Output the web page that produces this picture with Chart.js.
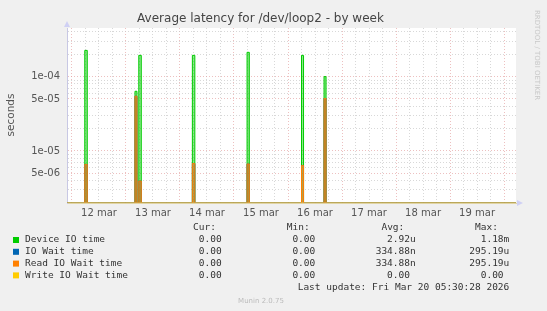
<!DOCTYPE html>
<html>
<head>
<meta charset="utf-8">
<script src="https://cdn.jsdelivr.net/npm/chart.js"></script>
<style>
  html, body { margin: 0; padding: 0; background: #f0f0f0; }
  #wrap { position: relative; width: 547px; height: 311px; }
</style>
</head>
<body>
<div id="wrap"><canvas id="chart" width="547" height="311"></canvas></div>
<script>
// hours since 12 mar 00:00, sample points of the spikes (stepped lines)
const sampleHours = [-2.2, 5.7, 6.8, 28.0, 28.9, 29.7, 30.8, 53.5, 54.6, 77.8, 78.8, 102.0, 102.9, 112.0, 112.9, 197.3];
const deviceIoTime = [0, 2.25e-4, 0, 6.35e-5, 0, 1.93e-4, 0, 1.93e-4, 0, 2.12e-4, 0, 1.93e-4, 0, 1.0e-4, 0, 0];
const ioWaitTime = [0, 6.6e-6, 0, 5.45e-5, 0, 3.95e-6, 0, 6.8e-6, 0, 6.7e-6, 0, 6.4e-6, 0, 5.07e-5, 0, 0];
const readIoWaitTime = [0, 6.6e-6, 0, 5.45e-5, 0, 3.95e-6, 0, 6.8e-6, 0, 6.7e-6, 0, 6.4e-6, 0, 5.07e-5, 0, 0];
const writeIoWaitTime = [0, 0, 0, 0, 0, 0, 0, 0, 0, 0, 0, 0, 0, 0, 0, 0];

// axes
const xMin = -2.2, xMax = 197.3;
const yMin = 2e-6, yMax = 4.5e-4;
const dayLabels = ['12 mar', '13 mar', '14 mar', '15 mar', '16 mar', '17 mar', '18 mar', '19 mar'];
const dayLabelHours = [12, 36, 60, 84, 108, 132, 156, 180];
const yTickValues = [5e-6, 1e-5, 5e-5, 1e-4];
const yTickLabels = ['5e-06', '1e-05', '5e-05', '1e-04'];
const yGridValues = [2e-6, 3e-6, 4e-6, 5e-6, 6e-6, 7e-6, 8e-6, 9e-6,
                     1e-5, 2e-5, 3e-5, 4e-5, 5e-5, 6e-5, 7e-5, 8e-5, 9e-5,
                     1e-4, 2e-4, 3e-4, 4e-4];

// legend table
const seriesNames = ['Device IO time', 'IO Wait time', 'Read IO Wait time', 'Write IO Wait time'];
const seriesColors = ['#00cc00', '#0066b3', '#ff8000', '#ffcc00'];
const curValues = ['0.00', '0.00', '0.00', '0.00'];
const minValues = ['0.00', '0.00', '0.00', '0.00'];
const avgValues = ['2.92u', '334.88n', '334.88n', '0.00'];
const maxValues = ['1.18m', '295.19u', '295.19u', '0.00'];
const lastUpdate = 'Last update: Fri Mar 20 05:30:28 2026';

const RED = 'rgba(225,150,150,0.6)';
const GRAY = 'rgba(200,200,200,0.7)';

// zero on a log axis is drawn on the bottom edge, as rrdtool does
function pts(vals) {
  return sampleHours.map((h, i) => ({ x: h, y: vals[i] === 0 ? yMin : vals[i] }));
}

function isMajor(v) {
  return yTickValues.some(t => Math.abs(t - v) / t < 1e-6);
}

const xGridHours = [];
for (let h = 0; h <= 192; h += 6) xGridHours.push(h);

const muninPlugin = {
  id: 'munin',
  beforeDraw(chart) {
    const { ctx, chartArea: a } = chart;
    ctx.save();
    ctx.fillStyle = '#f0f0f0';
    ctx.fillRect(0, 0, chart.width, chart.height);
    ctx.fillStyle = '#ffffff';
    ctx.fillRect(a.left, a.top, a.right - a.left, a.bottom - a.top);
    ctx.restore();
  },
  afterDraw(chart) {
    const { ctx, chartArea: a } = chart;
    ctx.save();

    // title
    ctx.fillStyle = '#444';
    ctx.font = '12px "DejaVu Sans"';
    ctx.textAlign = 'center';
    ctx.textBaseline = 'middle';
    ctx.fillText('Average latency for /dev/loop2 - by week', 260.5, 19);

    // axis arrows
    ctx.fillStyle = '#cfd0f4';
    ctx.beginPath();
    ctx.moveTo(a.left - 3, a.top - 1);
    ctx.lineTo(a.left + 3, a.top - 1);
    ctx.lineTo(a.left, a.top - 7);
    ctx.closePath();
    ctx.fill();
    ctx.beginPath();
    ctx.moveTo(a.right + 1, a.bottom - 3);
    ctx.lineTo(a.right + 1, a.bottom + 3);
    ctx.lineTo(a.right + 7, a.bottom);
    ctx.closePath();
    ctx.fill();

    // y axis label
    ctx.save();
    ctx.translate(11, 115);
    ctx.rotate(-Math.PI / 2);
    ctx.fillStyle = '#555';
    ctx.font = '10.5px "DejaVu Sans"';
    ctx.fillText('seconds', 0, 0);
    ctx.restore();

    // rrdtool credit
    ctx.save();
    ctx.translate(537, 55);
    ctx.rotate(Math.PI / 2);
    ctx.fillStyle = '#c8c8c8';
    ctx.font = '7px "DejaVu Sans"';
    ctx.fillText('RRDTOOL / TOBI OETIKER', 0, 0);
    ctx.restore();

    // legend table
    ctx.font = '9.5px "DejaVu Sans Mono"';
    ctx.fillStyle = '#333';
    const colX = [227.4, 321, 415.7, 509.3];
    const heads = ['Cur:', 'Min:', 'Avg:', 'Max:'];
    ctx.textAlign = 'right';
    heads.forEach((h, i) => ctx.fillText(h, colX[i] - 11.4, 228));
    const cols = [curValues, minValues, avgValues, maxValues];
    seriesNames.forEach((name, r) => {
      const y = 240 + r * 11.8;
      ctx.fillStyle = seriesColors[r];
      ctx.fillRect(13, y - 3, 6, 6);
      ctx.fillStyle = '#333';
      ctx.textAlign = 'left';
      ctx.fillText(name, 25, y);
      ctx.textAlign = 'right';
      cols.forEach((col, c) => {
        const s = col[r];
        ctx.fillText(/[a-z]$/.test(s) ? s : s + ' ', colX[c], y);
      });
    });
    ctx.fillText(lastUpdate, 509.3, 288);

    ctx.textAlign = 'center';
    ctx.fillStyle = '#bbb';
    ctx.font = '7px "DejaVu Sans"';
    ctx.fillText('Munin 2.0.75', 261, 301);
    ctx.restore();
  }
};

new Chart(document.getElementById('chart'), {
  type: 'line',
  data: {
    datasets: [
      { label: seriesNames[0], data: pts(deviceIoTime), borderColor: '#00cc00', backgroundColor: 'rgba(0,204,0,0.45)', fill: 'start', order: 3 },
      { label: seriesNames[1], data: pts(ioWaitTime), borderColor: '#0066b3', backgroundColor: 'rgba(0,102,179,0.3)', fill: 'start', order: 2 },
      { label: seriesNames[2], data: pts(readIoWaitTime), borderColor: '#ff8000', backgroundColor: 'rgba(255,128,0,0.5)', fill: 'start', order: 1 },
      { label: seriesNames[3], data: pts(writeIoWaitTime), borderColor: 'rgba(230,200,110,0.8)', backgroundColor: 'transparent', fill: false, order: 0 }
    ]
  },
  options: {
    responsive: false,
    animation: false,
    devicePixelRatio: 1,
    layout: { padding: { top: 28, right: 31, left: 0, bottom: 0 } },
    elements: {
      line: { borderWidth: 1, stepped: true, tension: 0 },
      point: { radius: 0 }
    },
    plugins: { legend: { display: false }, tooltip: { enabled: false }, title: { display: false } },
    scales: {
      x: {
        type: 'linear',
        min: xMin,
        max: xMax,
        afterFit(s) { s.height = 108; },
        afterBuildTicks(s) { s.ticks = xGridHours.map(v => ({ value: v })); },
        ticks: {
          autoSkip: false,
          maxRotation: 0,
          padding: 4,
          color: '#555',
          font: { family: 'DejaVu Sans', size: 10 },
          callback(v) {
            const i = dayLabelHours.indexOf(v);
            return i >= 0 ? dayLabels[i] : '';
          }
        },
        grid: {
          drawTicks: false,
          color(c) { return c.tick && c.tick.value % 24 === 0 ? RED : GRAY; }
        },
        border: { color: '#e0d4a4', dash: [1, 2] }
      },
      y: {
        type: 'logarithmic',
        min: yMin,
        max: yMax,
        afterFit(s) { s.width = 67; },
        afterBuildTicks(s) { s.ticks = yGridValues.map(v => ({ value: v })); },
        ticks: {
          autoSkip: false,
          padding: 7,
          color: '#555',
          font: { family: 'DejaVu Sans', size: 10 },
          callback(v) {
            const i = yTickValues.findIndex(t => Math.abs(t - v) / t < 1e-6);
            return i >= 0 ? yTickLabels[i] : '';
          }
        },
        grid: {
          drawTicks: false,
          color(c) { return c.tick && isMajor(c.tick.value) ? RED : GRAY; }
        },
        border: { color: '#c8c8e4', dash: [1, 2] }
      }
    }
  },
  plugins: [muninPlugin]
});
</script>
</body>
</html>
